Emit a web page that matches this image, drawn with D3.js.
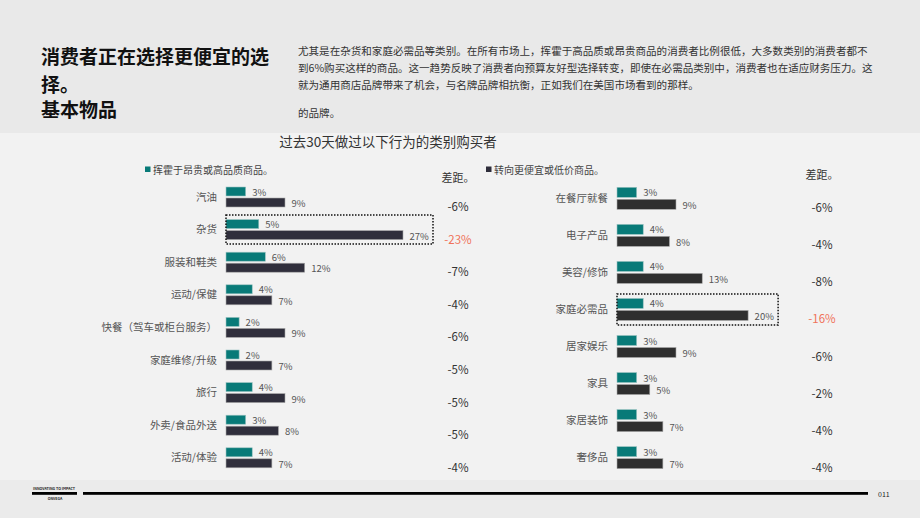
<!DOCTYPE html>
<html>
<head>
<meta charset="utf-8">
<script src="https://cdn.jsdelivr.net/npm/d3@7"></script>
<style>
  body { margin: 0; background: #f2f2f2; }
  svg { display: block; font-family: "Noto Sans CJK SC", "Noto Sans", sans-serif; }
</style>
</head>
<body>
<div id="chart"></div>
<script>
// data
var leftCategories = ["汽油", "杂货", "服装和鞋类", "运动/保健", "快餐（驾车或柜台服务）", "家庭维修/升级", "旅行", "外卖/食品外送", "活动/体验"];
var leftSplurge = [3, 5, 6, 4, 2, 2, 4, 3, 4];
var leftTradeDown = [9, 27, 12, 7, 9, 7, 9, 8, 7];
var leftGap = [-6, -23, -7, -4, -6, -5, -5, -5, -4];

var rightCategories = ["在餐厅就餐", "电子产品", "美容/修饰", "家庭必需品", "居家娱乐", "家具", "家居装饰", "奢侈品"];
var rightSplurge = [3, 4, 4, 4, 3, 3, 3, 3];
var rightTradeDown = [9, 8, 13, 20, 9, 5, 7, 7];
var rightGap = [-6, -4, -8, -16, -6, -2, -4, -4];

var legendLabels = ["挥霍于昂贵或高品质商品。", "转向更便宜或低价商品。"];
var titleLines = ["消费者正在选择更便宜的选", "择。", "基本物品"];
var bodyLines = [
  "尤其是在杂货和家庭必需品等类别。在所有市场上，挥霍于高品质或昂贵商品的消费者比例很低，大多数类别的消费者都不",
  "到6%购买这样的商品。这一趋势反映了消费者向预算友好型选择转变，即使在必需品类别中，消费者也在适应财务压力。这",
  "就为通用商店品牌带来了机会，与名牌品牌相抗衡，正如我们在美国市场看到的那样。",
  "的品牌。"
];
var chartTitle = "过去30天做过以下行为的类别购买者";
var gapTitle = "差距。";

var TEAL = "#087a78";
var width = 920, height = 518;

var svg = d3.select("#chart").append("svg")
  .attr("width", width)
  .attr("height", height);

// background bands
svg.append("rect").attr("x", 0).attr("y", 0).attr("width", width).attr("height", 133).attr("fill", "#e9e9e9");
svg.append("rect").attr("x", 0).attr("y", 133).attr("width", width).attr("height", 347).attr("fill", "#f2f2f2");
svg.append("rect").attr("x", 0).attr("y", 480).attr("width", width).attr("height", 38).attr("fill", "#ebebeb");

// heading
svg.append("g").selectAll("text")
  .data(titleLines)
  .enter().append("text")
    .attr("x", 41)
    .attr("y", function(d, i) { return [55, 83, 108][i]; })
    .attr("dominant-baseline", "central")
    .style("font-size", "19px")
    .style("font-weight", "bold")
    .attr("fill", "#111")
    .text(function(d) { return d; });

// paragraph
svg.append("g").selectAll("text")
  .data(bodyLines)
  .enter().append("text")
    .attr("x", 298)
    .attr("y", function(d, i) { return [50, 67, 84, 112][i]; })
    .attr("dominant-baseline", "central")
    .style("font-size", "10.55px")
    .attr("fill", "#333")
    .text(function(d) { return d; });

svg.append("text")
  .attr("x", 388).attr("y", 141)
  .attr("text-anchor", "middle")
  .attr("dominant-baseline", "central")
  .style("font-size", "13.5px")
  .attr("fill", "#333")
  .text(chartTitle);

// one scale for bar length, shared by both panels
var x = d3.scaleLinear().domain([0, 27]).range([0, 177]);

function drawPanel(opt) {
  var g = svg.append("g");
  var y = d3.scaleBand()
    .domain(opt.categories)
    .range([opt.top, opt.top + opt.step * opt.categories.length])
    .padding(0);
  var bh = opt.barH, gap = 2;
  var rows = opt.categories.map(function(c, i) {
    return { cat: c, s: opt.splurge[i], t: opt.trade[i], gap: opt.gaps[i] };
  });
  var mid = function(d) { return y(d.cat) + bh + gap / 2; };

  // legend
  g.append("rect")
    .attr("x", opt.legendX).attr("y", 166.5)
    .attr("width", 5.5).attr("height", 5.5)
    .attr("fill", opt.legendColor);
  g.append("text")
    .attr("x", opt.legendX + 8).attr("y", 169)
    .attr("dominant-baseline", "central")
    .style("font-size", "10px")
    .attr("fill", "#444")
    .text(opt.legend);

  g.append("text")
    .attr("x", opt.gapX).attr("y", opt.gapTitleY)
    .attr("text-anchor", "middle")
    .attr("dominant-baseline", "central")
    .style("font-size", "11px")
    .attr("fill", "#333")
    .text(gapTitle);

  // category labels
  g.selectAll(".cat").data(rows).enter().append("text")
    .attr("x", opt.x0 - 9)
    .attr("y", function(d) { return mid(d) - 1; })
    .attr("text-anchor", "end")
    .attr("dominant-baseline", "central")
    .style("font-size", "10.5px")
    .attr("fill", "#555")
    .text(function(d) { return d.cat; });

  // bars
  g.selectAll(".sp").data(rows).enter().append("rect")
    .attr("x", opt.x0)
    .attr("y", function(d) { return y(d.cat); })
    .attr("width", function(d) { return x(d.s); })
    .attr("height", bh)
    .attr("fill", TEAL)
    .attr("stroke", "#9cc4c2").attr("stroke-width", 0.6);
  g.selectAll(".td").data(rows).enter().append("rect")
    .attr("x", opt.x0)
    .attr("y", function(d) { return y(d.cat) + bh + gap; })
    .attr("width", function(d) { return x(d.t); })
    .attr("height", bh)
    .attr("fill", opt.darkColor)
    .attr("stroke", "#a8a8a8").attr("stroke-width", 0.6);

  // value labels
  g.selectAll(".spl").data(rows).enter().append("text")
    .attr("x", function(d) { return opt.x0 + x(d.s) + 6.5; })
    .attr("y", function(d) { return y(d.cat) + bh / 2; })
    .attr("dominant-baseline", "central")
    .style("font-size", "9.5px")
    .attr("fill", "#555")
    .text(function(d) { return d.s + "%"; });
  g.selectAll(".tdl").data(rows).enter().append("text")
    .attr("x", function(d) { return opt.x0 + x(d.t) + 6.5; })
    .attr("y", function(d) { return y(d.cat) + bh + gap + bh / 2 + 0.5; })
    .attr("dominant-baseline", "central")
    .style("font-size", "9.5px")
    .attr("fill", "#555")
    .text(function(d) { return d.t + "%"; });

  // gap column
  var maxGap = d3.min(opt.gaps);
  g.selectAll(".gap").data(rows).enter().append("text")
    .attr("x", opt.gapX)
    .attr("y", function(d) { return mid(d) + 9; })
    .attr("text-anchor", "middle")
    .attr("dominant-baseline", "central")
    .style("font-size", "11.5px")
    .attr("fill", function(d) { return d.gap === maxGap ? "#f0735a" : "#333"; })
    .text(function(d) { return d.gap + "%"; });

  // dotted box round the biggest gap
  var hi = rows.filter(function(d) { return d.gap === maxGap; })[0];
  g.append("rect")
    .attr("x", opt.x0)
    .attr("y", y(hi.cat) - 4.5)
    .attr("width", x(hi.t) + 30)
    .attr("height", bh * 2 + gap + 9)
    .attr("fill", "none")
    .attr("stroke", "#111")
    .attr("stroke-width", 1.5)
    .attr("stroke-dasharray", "1.5,1.5");
}

drawPanel({
  categories: leftCategories, splurge: leftSplurge, trade: leftTradeDown, gaps: leftGap,
  top: 187, step: 32.6, barH: 9, x0: 226, gapX: 458, gapTitleY: 177,
  legendX: 145, legend: legendLabels[0], legendColor: TEAL, darkColor: "#302f3c"
});
drawPanel({
  categories: rightCategories, splurge: rightSplurge, trade: rightTradeDown, gaps: rightGap,
  top: 187.3, step: 37.05, barH: 10, x0: 617, gapX: 822, gapTitleY: 174,
  legendX: 486, legend: legendLabels[1], legendColor: "#2e2d3a", darkColor: "#2f2f2f"
});

// footer
var foot = svg.append("g");
foot.append("text").attr("x", 54).attr("y", 488).attr("text-anchor", "middle")
  .attr("dominant-baseline", "central")
  .style("font-size", "3.6px").style("font-weight", "bold").attr("fill", "#222")
  .text("INNOVATING TO IMPACT");
foot.append("rect").attr("x", 32).attr("y", 492).attr("width", 45).attr("height", 2.8).attr("fill", "#000");
foot.append("rect").attr("x", 83).attr("y", 492).attr("width", 785).attr("height", 2.8).attr("fill", "#000");
foot.append("text").attr("x", 55).attr("y", 498.5).attr("text-anchor", "middle")
  .attr("dominant-baseline", "central")
  .style("font-size", "3.6px").style("font-weight", "bold").attr("fill", "#222")
  .text("ONVEGA");
foot.append("text").attr("x", 878).attr("y", 493.5)
  .attr("dominant-baseline", "central")
  .style("font-size", "7px").attr("fill", "#222")
  .text("011");
</script>
</body>
</html>
